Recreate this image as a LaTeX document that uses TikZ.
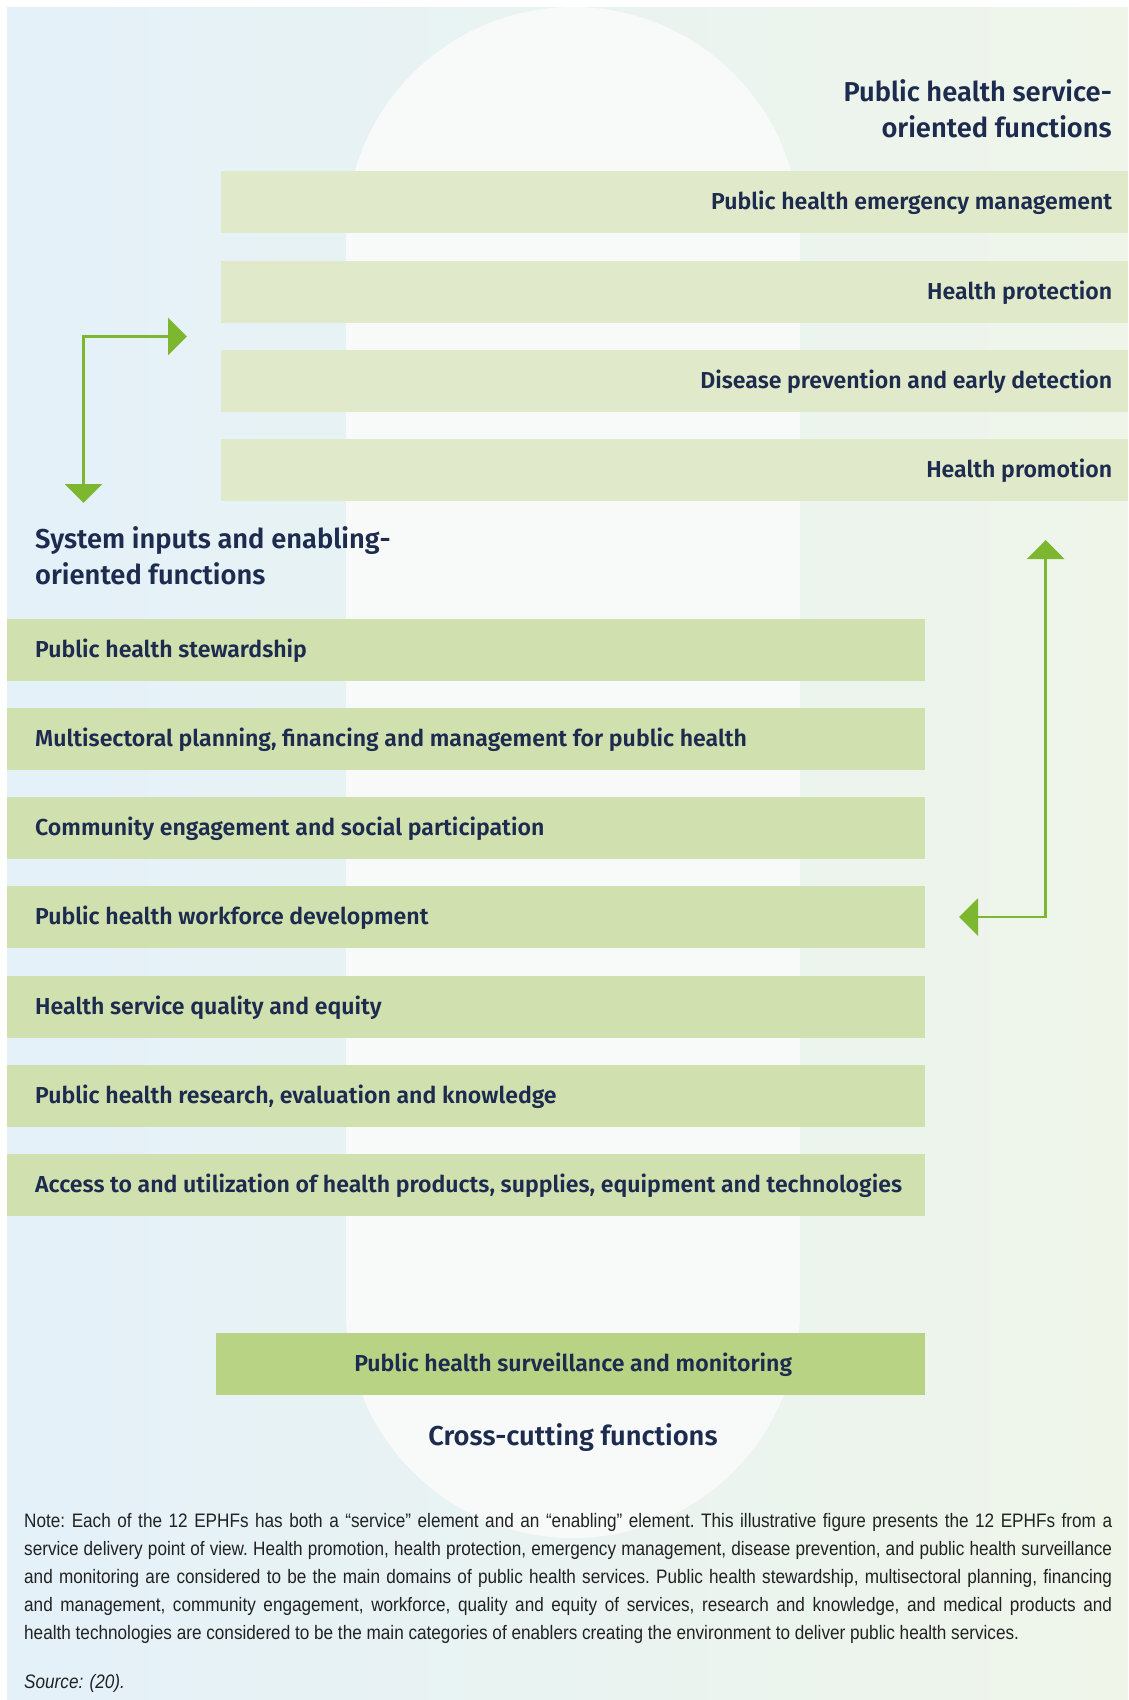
\documentclass[tikz,border=0pt]{standalone}
\usepackage{fontspec}
\setmainfont{Fira Sans}
\newfontfamily\semib{Fira Sans SemiBold}
\newfontfamily\notefont{Liberation Sans}[FakeStretch=0.88]
\usetikzlibrary{arrows.meta}
\definecolor{bgL}{HTML}{E4F1F9}
\definecolor{bgR}{HTML}{EFF5E9}
\definecolor{pillC}{HTML}{F8FAF9}
\definecolor{svcC}{HTML}{E0E9C9}
\definecolor{enbC}{HTML}{D0E0AF}
\definecolor{crsC}{HTML}{B8D383}
\definecolor{arrC}{HTML}{7DB72F}
\definecolor{navy}{HTML}{1D2B4F}
\definecolor{noteC}{HTML}{222222}
\tikzset{
  svcbox/.style={fill=svcC, minimum width=907pt, minimum height=62pt, inner sep=0pt, anchor=north west},
  enbbox/.style={fill=enbC, minimum width=918pt, minimum height=62pt, inner sep=0pt, anchor=north west},
  crsbox/.style={fill=crsC, minimum width=709pt, minimum height=62pt, inner sep=0pt, anchor=north west},
  boxlab/.style={text=navy, inner sep=0pt, font=\semib\fontsize{23.1}{27}\selectfont},
  ttl/.style={text=navy, inner sep=0pt, font=\semib\fontsize{27.3}{36}\selectfont},
  arr/.style={draw=arrC, line width=2.5pt, {Triangle[length=19pt,width=37pt]}-{Triangle[length=19pt,width=37pt]}}
}
\begin{document}
\begin{tikzpicture}[x=1pt,y=-1pt]
\useasboundingbox (0,0) rectangle (1128,1700);
\fill[white] (0,0) rectangle (1128,1700);
\shade[left color=bgL, right color=bgR] (7,7) rectangle (1128,1700);
\fill[pillC, rounded corners=227pt] (346,7) rectangle (800,1538);

% titles
\node[ttl, anchor=north east, align=right] (t1) at (1112,79) {Public health service-\\oriented functions};
\node[ttl, anchor=north west, align=left] (t2) at (35,526) {System inputs and enabling-\\oriented functions};
\node[ttl, anchor=base] (t3) at (573,1445) {Cross-cutting functions};

% service boxes
\node[svcbox] (s1) at (221,171) {};
\node[svcbox] (s2) at (221,261) {};
\node[svcbox] (s3) at (221,350) {};
\node[svcbox] (s4) at (221,439) {};
\node[boxlab, anchor=base east] (s1t) at ([xshift=-16pt,yshift=-7.5pt]s1.east) {Public health emergency management};
\node[boxlab, anchor=base east] (s2t) at ([xshift=-16pt,yshift=-7.5pt]s2.east) {Health protection};
\node[boxlab, anchor=base east] (s3t) at ([xshift=-16pt,yshift=-7.5pt]s3.east) {Disease prevention and early detection};
\node[boxlab, anchor=base east] (s4t) at ([xshift=-16pt,yshift=-7.5pt]s4.east) {Health promotion};

% enabling boxes
\node[enbbox] (e1) at (7,619) {};
\node[enbbox] (e2) at (7,708) {};
\node[enbbox] (e3) at (7,797) {};
\node[enbbox] (e4) at (7,886) {};
\node[enbbox] (e5) at (7,976) {};
\node[enbbox] (e6) at (7,1065) {};
\node[enbbox] (e7) at (7,1154) {};
\node[boxlab, anchor=base west] (e1t) at ([xshift=28pt,yshift=-7.5pt]e1.west) {Public health stewardship};
\node[boxlab, anchor=base west] (e2t) at ([xshift=28pt,yshift=-7.5pt]e2.west) {Multisectoral planning, financing and management for public health};
\node[boxlab, anchor=base west] (e3t) at ([xshift=28pt,yshift=-7.5pt]e3.west) {Community engagement and social participation};
\node[boxlab, anchor=base west] (e4t) at ([xshift=28pt,yshift=-7.5pt]e4.west) {Public health workforce development};
\node[boxlab, anchor=base west] (e5t) at ([xshift=28pt,yshift=-7.5pt]e5.west) {Health service quality and equity};
\node[boxlab, anchor=base west] (e6t) at ([xshift=28pt,yshift=-7.5pt]e6.west) {Public health research, evaluation and knowledge};
\node[boxlab, anchor=base west] (e7t) at ([xshift=28pt,yshift=-7.5pt]e7.west) {Access to and utilization of health products, supplies, equipment and technologies};

% cross-cutting box
\node[crsbox] (c1) at (216,1333) {};
\node[boxlab, anchor=base] (c1t) at ([xshift=2.5pt,yshift=-7.5pt]c1.center) {Public health surveillance and monitoring};

% arrows
\coordinate (la1) at (187,336.5);
\coordinate (la2) at (83.5,503);
\draw[arr] (la1) -| (la2);
\coordinate (ra1) at (1045.7,540);
\coordinate (ra2) at (959,917);
\draw[arr] (ra1) |- (ra2);

% note
\node[anchor=north west, inner sep=0pt, text width=1088pt, align=justify, text=noteC,
      font=\notefont\fontsize{19.5}{28}\selectfont\frenchspacing] (note) at (24,1513)
{Note: Each of the 12 EPHFs has both a “service” element and an “enabling” element. This illustrative figure presents the 12 EPHFs from a\linebreak
service delivery point of view. Health promotion, health protection, emergency management, disease prevention, and public health surveillance\linebreak
and monitoring are considered to be the main domains of public health services. Public health stewardship, multisectoral planning, financing\linebreak
and management, community engagement, workforce, quality and equity of services, research and knowledge, and medical products and\linebreak
health technologies are considered to be the main categories of enablers creating the environment to deliver public health services.};
\node[anchor=base west, inner sep=0pt, text=noteC, font=\notefont\itshape\fontsize{19.5}{28}\selectfont] (src) at (24,1688) {Source: (20).};
\end{tikzpicture}
\end{document}
